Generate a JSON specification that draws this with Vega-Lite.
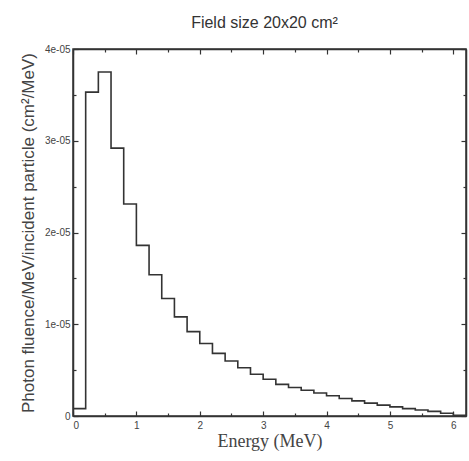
{
  "$schema": "https://vega.github.io/schema/vega-lite/v6.json",
  "width": 393,
  "height": 367,
  "autosize": "none",
  "padding": {"left": 73, "top": 49, "right": 3, "bottom": 45},
  "title": {
    "text": "Field size 20x20 cm²",
    "font": "Liberation Sans",
    "fontSize": 16,
    "fontWeight": "normal",
    "color": "#333",
    "anchor": "middle",
    "dx": -5,
    "offset": 13
  },
  "config": {
    "view": {"stroke": "#333", "strokeWidth": 1.5},
    "axis": {
      "grid": false,
      "domainColor": "#333",
      "domainWidth": 1.5,
      "tickColor": "#333",
      "tickWidth": 1.2,
      "labelColor": "#444",
      "labelFont": "Liberation Sans",
      "labelFontSize": 10,
      "titleColor": "#444",
      "titleFontWeight": "normal"
    }
  },
  "data": {
    "values": [
      {"energy": 0.0, "fluence": 8e-7},
      {"energy": 0.2, "fluence": 3.53e-5},
      {"energy": 0.4, "fluence": 3.75e-5},
      {"energy": 0.6, "fluence": 2.92e-5},
      {"energy": 0.8, "fluence": 2.31e-5},
      {"energy": 1.0, "fluence": 1.86e-5},
      {"energy": 1.2, "fluence": 1.54e-5},
      {"energy": 1.4, "fluence": 1.28e-5},
      {"energy": 1.6, "fluence": 1.08e-5},
      {"energy": 1.8, "fluence": 9.2e-6},
      {"energy": 2.0, "fluence": 7.9e-6},
      {"energy": 2.2, "fluence": 6.83e-6},
      {"energy": 2.4, "fluence": 6.0e-6},
      {"energy": 2.6, "fluence": 5.26e-6},
      {"energy": 2.8, "fluence": 4.55e-6},
      {"energy": 3.0, "fluence": 4.0e-6},
      {"energy": 3.2, "fluence": 3.45e-6},
      {"energy": 3.4, "fluence": 3.1e-6},
      {"energy": 3.6, "fluence": 2.8e-6},
      {"energy": 3.8, "fluence": 2.5e-6},
      {"energy": 4.0, "fluence": 2.2e-6},
      {"energy": 4.2, "fluence": 1.9e-6},
      {"energy": 4.4, "fluence": 1.65e-6},
      {"energy": 4.6, "fluence": 1.4e-6},
      {"energy": 4.8, "fluence": 1.18e-6},
      {"energy": 5.0, "fluence": 9.9e-7},
      {"energy": 5.2, "fluence": 8.0e-7},
      {"energy": 5.4, "fluence": 6.5e-7},
      {"energy": 5.6, "fluence": 5.0e-7},
      {"energy": 5.8, "fluence": 3.0e-7},
      {"energy": 6.0, "fluence": 8e-8},
      {"energy": 6.2, "fluence": 8e-8}
    ]
  },
  "layer": [
    {
      "mark": {"type": "line", "interpolate": "step-after", "color": "#333", "strokeWidth": 1.6},
      "encoding": {
        "x": {
          "field": "energy", "type": "quantitative",
          "scale": {"domain": [0, 6.2], "nice": false},
          "axis": {
            "orient": "bottom", "values": [0, 1, 2, 3, 4, 5, 6], "tickSize": -5,
            "labelPadding": 9, "title": "Energy (MeV)",
            "titleFont": "Liberation Serif", "titleFontSize": 18, "titlePadding": 2
          }
        },
        "y": {
          "field": "fluence", "type": "quantitative",
          "scale": {"domain": [0, 4e-5], "nice": false},
          "axis": {
            "orient": "left", "values": [0, 1e-5, 2e-5, 3e-5, 4e-5], "tickSize": -5,
            "labelPadding": 8,
            "labelExpr": "datum.value == 0 ? '0' : replace(format(datum.value, '.0e'), 'e-5', 'e-05')",
            "title": "Photon fluence/MeV/incident particle (cm²/MeV)",
            "titleFont": "Liberation Sans", "titleFontSize": 17, "titlePadding": 7
          }
        }
      }
    },
    {
      "mark": {"type": "line", "interpolate": "step-after", "opacity": 0},
      "encoding": {
        "x": {
          "field": "energy", "type": "quantitative",
          "axis": {"orient": "top", "values": [0, 1, 2, 3, 4, 5, 6], "tickSize": -5, "labels": false, "title": null}
        },
        "y": {
          "field": "fluence", "type": "quantitative",
          "axis": {"orient": "right", "values": [0, 1e-5, 2e-5, 3e-5, 4e-5], "tickSize": -5, "labels": false, "title": null}
        }
      }
    },
    {
      "mark": {"type": "line", "interpolate": "step-after", "opacity": 0},
      "encoding": {
        "x": {
          "field": "energy", "type": "quantitative",
          "axis": {"orient": "bottom", "values": [0.5, 1.5, 2.5, 3.5, 4.5, 5.5], "tickSize": -3, "labels": false, "domain": false, "title": null}
        },
        "y": {
          "field": "fluence", "type": "quantitative",
          "axis": {"orient": "left", "values": [5e-6, 1.5e-5, 2.5e-5, 3.5e-5], "tickSize": -3, "labels": false, "domain": false, "title": null}
        }
      }
    },
    {
      "mark": {"type": "line", "interpolate": "step-after", "opacity": 0},
      "encoding": {
        "x": {
          "field": "energy", "type": "quantitative",
          "axis": {"orient": "top", "values": [0.5, 1.5, 2.5, 3.5, 4.5, 5.5], "tickSize": -3, "labels": false, "domain": false, "title": null}
        },
        "y": {
          "field": "fluence", "type": "quantitative",
          "axis": {"orient": "right", "values": [5e-6, 1.5e-5, 2.5e-5, 3.5e-5], "tickSize": -3, "labels": false, "domain": false, "title": null}
        }
      }
    }
  ],
  "resolve": {"axis": {"x": "independent", "y": "independent"}}
}
